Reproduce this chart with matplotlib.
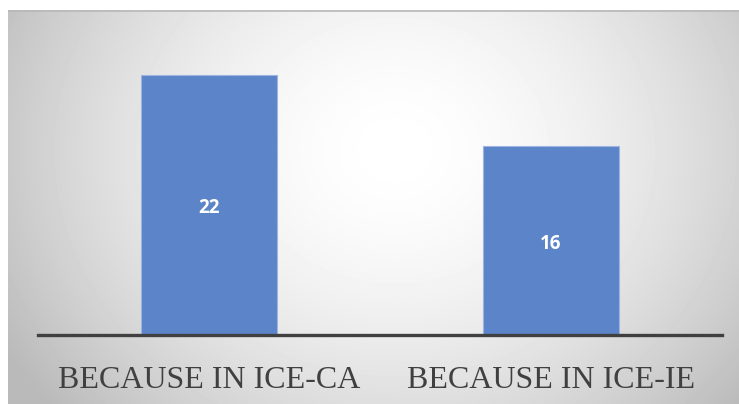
import numpy as np
import matplotlib

matplotlib.use("Agg")
import matplotlib.pyplot as plt

categories = ["BECAUSE IN ICE-CA", "BECAUSE IN ICE-IE"]
counts = [22, 16]

W, H, DPI = 739, 404, 100
fig = plt.figure(figsize=(W / DPI, H / DPI), dpi=DPI)
fig.patch.set_facecolor("white")

# --- radial grey backdrop of the chart area ---------------------------------
bg_left, bg_top = 8, 10
bg = fig.add_axes([bg_left / W, 0, 1 - bg_left / W, (H - bg_top) / H])
bg.set_axis_off()
gw, gh = W - bg_left, H - bg_top
yy, xx = np.mgrid[0:gh, 0:gw]
cx, cy = 395 - bg_left, 150 - bg_top
dist = np.hypot(xx - cx, (yy - cy) * 1.15) / 410.0
shade = 1.0 - 0.23 * np.clip(dist, 0, 1.1) ** 1.7
bg.imshow(shade, cmap="gray", vmin=0, vmax=1, aspect="auto",
          extent=[0, gw, gh, 0], interpolation="bilinear")
bg.plot([0, gw], [0.5, 0.5], color="#b8b8b8", lw=1.2)
bg.set_xlim(0, gw)
bg.set_ylim(gh, 0)

# --- bars --------------------------------------------------------------------
ax_left, ax_right, ax_base = 38, 722, 335
ymax = 25
px_per_unit = 11.8
ax_top = ax_base - ymax * px_per_unit
ax = fig.add_axes([ax_left / W, (H - ax_base) / H,
                   (ax_right - ax_left) / W, (ax_base - ax_top) / H])
ax.patch.set_alpha(0)

x = np.arange(len(categories))
bars = ax.bar(x, counts, width=0.395, color="#5b84c9",
              edgecolor="#9db5e0", linewidth=0.8, zorder=2)
for b, v in zip(bars, counts):
    ax.text(b.get_x() + b.get_width() / 2, v / 2 - 0.25, str(v),
            ha="center", va="center", color="white",
            fontsize=13.5, fontweight="bold", family="Open Sans")

ax.set_xlim(-0.5, 1.5)
ax.set_ylim(0, ymax)
for s in ["top", "right", "left"]:
    ax.spines[s].set_visible(False)
ax.spines["bottom"].set_color("#404040")
ax.spines["bottom"].set_linewidth(2.4)
ax.set_yticks([])
ax.set_xticks(x)
ax.set_xticklabels(categories, family="Liberation Serif", fontsize=23,
                   color="#404040")
ax.tick_params(axis="x", length=0, pad=22)

fig.savefig("out.png", dpi=DPI)
